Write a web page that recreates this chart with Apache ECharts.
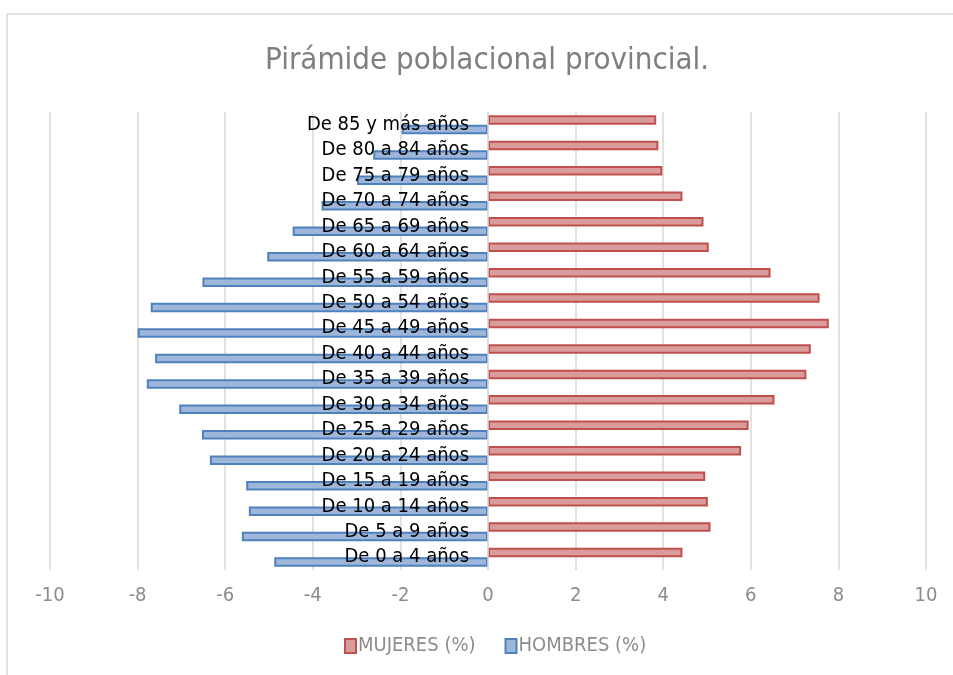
<!DOCTYPE html>
<html>
<head>
<meta charset="utf-8">
<script src="https://cdn.jsdelivr.net/npm/echarts@6/dist/echarts.min.js"></script>
<style>
html,body{margin:0;padding:0;background:#fff;}
#main{width:953px;height:675px;}
</style>
</head>
<body>
<div id="main"></div>
<script>
const titleText = 'Pirámide poblacional provincial.';
const categories = ['De 0 a 4 años','De 5 a 9 años','De 10 a 14 años','De 15 a 19 años','De 20 a 24 años','De 25 a 29 años','De 30 a 34 años','De 35 a 39 años','De 40 a 44 años','De 45 a 49 años','De 50 a 54 años','De 55 a 59 años','De 60 a 64 años','De 65 a 69 años','De 70 a 74 años','De 75 a 79 años','De 80 a 84 años','De 85 y más años'];
const mujeres = [4.44, 5.08, 5.02, 4.96, 5.78, 5.95, 6.54, 7.27, 7.37, 7.78, 7.57, 6.45, 5.04, 4.92, 4.44, 3.98, 3.89, 3.84];
const hombres = [-4.88, -5.62, -5.46, -5.52, -6.35, -6.53, -7.05, -7.79, -7.60, -8.00, -7.70, -6.52, -5.04, -4.46, -3.80, -2.99, -2.62, -1.97];
const xTicks = {min: -10, max: 10, interval: 2};

const FONT = "'Liberation Sans Narrow','DejaVu Sans Condensed','Liberation Sans',sans-serif";
const GRID = {left: 50, right: 27, top: 112, bottom: 105};
const plotW = 953 - GRID.left - GRID.right;
const zeroOffset = plotW * (0 - xTicks.min) / (xTicks.max - xTicks.min);
const chart = echarts.init(document.getElementById('main'), null, {renderer: 'canvas'});
chart.setOption({
  backgroundColor: '#fff',
  animation: false,
  graphic: [{
    type: 'rect', shape: {x: 7, y: 14, width: 960, height: 700},
    style: {fill: 'none', stroke: '#d9d9d9', lineWidth: 1.5}, z: -10
  }],
  title: {
    text: titleText, left: 260, top: 40,
    textStyle: {fontFamily: FONT, fontSize: 31, fontWeight: 'normal', color: '#7f7f7f'}
  },
  legend: {
    data: ['MUJERES (%)', 'HOMBRES (%)'],
    bottom: 14, left: 339,
    icon: 'rect',
    itemWidth: 11, itemHeight: 14, itemGap: 29,
    textStyle: {fontFamily: FONT, fontSize: 20, color: '#8c8c8c', padding: [0,0,0,-3]}
  },
  grid: Object.assign({containLabel: false, outerBoundsMode: 'none'}, GRID),
  xAxis: {
    type: 'value', min: xTicks.min, max: xTicks.max, interval: xTicks.interval,
    axisLine: {show: false}, axisTick: {show: false},
    axisLabel: {fontFamily: FONT, fontSize: 20, color: '#8c8c8c', margin: 16},
    splitLine: {show: true, lineStyle: {color: '#d9d9d9', width: 1.5}}
  },
  yAxis: {
    type: 'category', data: categories, z: 10,
    offset: -zeroOffset,
    axisLine: {show: true, onZero: false, lineStyle: {color: '#d9d9d9', width: 1.5}},
    axisTick: {show: false},
    axisLabel: {interval: 0, fontFamily: FONT, fontSize: 20, color: '#000', margin: 19, hideOverlap: false}
  },
  series: [
    {
      name: 'MUJERES (%)', type: 'bar', data: mujeres,
      barWidth: 9.5, barGap: '0%',
      itemStyle: {color: '#d99c9b', borderColor: '#c0504d', borderWidth: 2}
    },
    {
      name: 'HOMBRES (%)', type: 'bar', data: hombres,
      barWidth: 9.5, barGap: '0%',
      itemStyle: {color: '#9db6da', borderColor: '#4f81bd', borderWidth: 2}
    }
  ]
});
</script>
</body>
</html>
